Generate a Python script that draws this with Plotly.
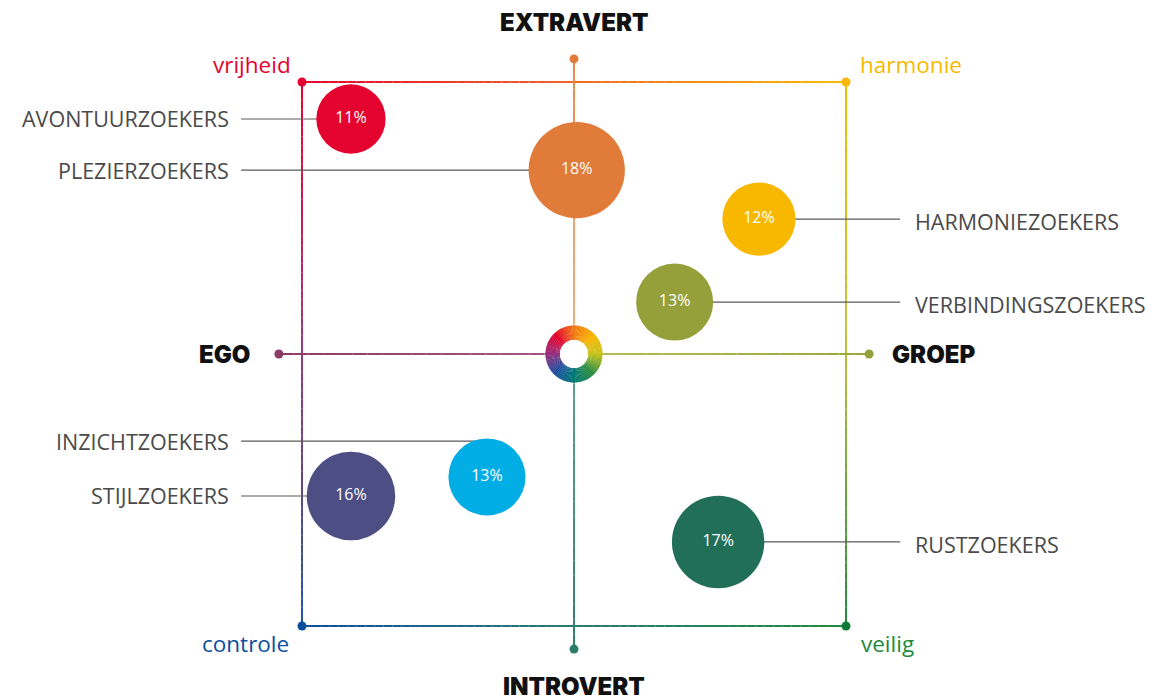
import math
import plotly.graph_objects as go

# ---------------- data ----------------
segments = ["AVONTUURZOEKERS", "PLEZIERZOEKERS", "HARMONIEZOEKERS", "VERBINDINGSZOEKERS",
            "INZICHTZOEKERS", "STIJLZOEKERS", "RUSTZOEKERS"]
ego_groep = [-0.82, 0.01, 0.68, 0.37, -0.32, -0.82, 0.53]       # x: EGO (-1) .. GROEP (+1)
intro_extra = [0.864, 0.676, 0.496, 0.191, -0.452, -0.522, -0.691]  # y: INTROVERT (-1) .. EXTRAVERT (+1)
share_pct = [11, 18, 12, 13, 13, 16, 17]
label_side = ["left", "left", "right", "right", "left", "left", "right"]
label_y = [0.864, 0.676, 0.496, 0.191, -0.32, -0.522, -0.691]
bubble_colors = ["#E4032E", "#E07B39", "#F9B800", "#95A03A", "#00ADE5", "#4D4F84", "#226F58"]

axis_titles = ["EXTRAVERT", "INTROVERT", "EGO", "GROEP"]
corner_titles = ["vrijheid", "harmonie", "controle", "veilig"]
corner_colors = ["#E4032E", "#F9B800", "#0B4F9C", "#1E8A3C"]

# ---------------- geometry helpers ----------------
W, H = 1158, 700
PX = 272.0          # pixels per data unit
CX, CY = 574, 354   # pixel of data origin
xr = [-CX / PX, (W - CX) / PX]
yr = [-(H - CY) / PX, CY / PX]


def hex2rgb(h):
    h = h.lstrip("#")
    return [int(h[i:i + 2], 16) for i in (0, 2, 4)]


def interp(stops, t):
    for i in range(len(stops) - 1):
        t0, c0 = stops[i]
        t1, c1 = stops[i + 1]
        if t0 <= t <= t1:
            f = (t - t0) / (t1 - t0) if t1 > t0 else 0
            a, b = hex2rgb(c0), hex2rgb(c1)
            return "rgb(%d,%d,%d)" % tuple(round(a[k] + (b[k] - a[k]) * f) for k in range(3))
    return stops[-1][1]


fig = go.Figure()
shapes = []


def grad_line(x0, y0, x1, y1, stops, n=60, width=2):
    for i in range(n):
        ta, tb = i / n, (i + 1) / n
        col = interp(stops, (ta + tb) / 2)
        shapes.append(dict(type="line", xref="x", yref="y",
                           x0=x0 + (x1 - x0) * ta, y0=y0 + (y1 - y0) * ta,
                           x1=x0 + (x1 - x0) * tb, y1=y0 + (y1 - y0) * tb,
                           line=dict(color=col, width=width), layer="below"))


# frame edges (gradient)
grad_line(-1, 1, 1, 1, [(0, "#E4032E"), (0.5, "#EE6A28"), (1, "#F9B800")])
grad_line(1, 1, 1, -1, [(0, "#F9B800"), (0.5, "#B8C23A"), (1, "#1E8A3C")])
grad_line(-1, -1, 1, -1, [(0, "#0B4F9C"), (0.5, "#2A7A70"), (1, "#1E8A3C")])
grad_line(-1, 1, -1, -1, [(0, "#E4032E"), (0.5, "#9A3A78"), (1, "#1E55A5")])

# axis lines
AX = 1.085
grad_line(0, AX, 0, 0, [(0, "#E8894C"), (1, "#F4AE84")], n=20)
grad_line(0, 0, 0, -AX, [(0, "#62A28E"), (1, "#2E8068")], n=20)
grad_line(-AX, 0, 0, 0, [(0, "#8B3A66"), (1, "#A55888")], n=20)
grad_line(0, 0, AX, 0, [(0, "#B2C055"), (1, "#98A63C")], n=20)

# connector lines
for x, y, ly, side in zip(ego_groep, intro_extra, label_y, label_side):
    xe = -1.224 if side == "left" else 1.199
    fig.add_trace(go.Scatter(x=[xe, x], y=[ly, ly], mode="lines",
                             line=dict(color="#5a5a5a", width=1.2), hoverinfo="skip"))

# endpoint dots
dots_x = [-1, 1, -1, 1, 0, 0, -AX, AX]
dots_y = [1, 1, -1, -1, AX, -AX, 0, 0]
dots_c = corner_colors[:2] + ["#0B4F9C", "#0E7A38"] + ["#E07B39", "#2A7D68", "#8B3A62", "#95A03A"]
fig.add_trace(go.Scatter(x=dots_x, y=dots_y, mode="markers",
                         marker=dict(size=9, color=dots_c, line=dict(width=0)), hoverinfo="skip"))

# bubbles
sizes = [3.85 * p + 27 for p in share_pct]
fig.add_trace(go.Scatter(x=ego_groep, y=intro_extra, mode="markers+text",
                         marker=dict(size=sizes, sizemode="diameter", color=bubble_colors,
                                     line=dict(width=0), opacity=1),
                         text=[f"{p}%" for p in share_pct], textposition="middle center",
                         textfont=dict(family="Open Sans", size=16, color="white", weight=400),
                         hoverinfo="skip"))

# center colour ring
ring_stops = [(0, "#C8C41E"), (45, "#F8B400"), (90, "#F07A14"), (135, "#E4032E"),
              (180, "#96307E"), (225, "#1E4FA0"), (270, "#007A76"), (315, "#2E8E3E"), (360, "#C8C41E")]
r_out, r_in = 28.5 / PX, 14 / PX
NSEG = 120
for i in range(NSEG):
    a0 = 360 * i / NSEG
    a1 = 360 * (i + 1) / NSEG + 0.8
    col = interp(ring_stops, 360 * (i + 0.5) / NSEG)
    pts = []
    for k in range(5):
        a = math.radians(a0 + (a1 - a0) * k / 4)
        pts.append((r_out * math.cos(a), r_out * math.sin(a)))
    for k in range(4, -1, -1):
        a = math.radians(a0 + (a1 - a0) * k / 4)
        pts.append((r_in * math.cos(a), r_in * math.sin(a)))
    path = "M " + " L ".join(f"{px:.5f},{py:.5f}" for px, py in pts) + " Z"
    shapes.append(dict(type="path", xref="x", yref="y", path=path,
                       fillcolor=col, line=dict(width=0), layer="above"))
shapes.append(dict(type="circle", xref="x", yref="y", x0=-r_in, y0=-r_in, x1=r_in, y1=r_in,
                   fillcolor="white", line=dict(width=0), layer="above"))

annotations = []
bold = dict(family="Inter", size=24, color="#111111", weight=900)
annotations.append(dict(x=0, y=1.217, text=axis_titles[0], xanchor="center", yanchor="middle", font=bold))
annotations.append(dict(x=0, y=-1.221, text=axis_titles[1], xanchor="center", yanchor="middle", font=bold))
annotations.append(dict(x=-1.184, y=0, text=axis_titles[2], xanchor="right", yanchor="middle", font=bold))
annotations.append(dict(x=1.163, y=0, text=axis_titles[3], xanchor="left", yanchor="middle", font=bold))

corner_pos = [(-1.184, 1.066), (1.239, 1.066), (-1.206, -1.0625), (1.151, -1.0625)]
for t, (cx, cy), c in zip(corner_titles, corner_pos, corner_colors):
    annotations.append(dict(x=cx, y=cy, text=t, xanchor="center", yanchor="middle",
                            font=dict(family="Open Sans", size=22.5, color=c, weight=400)))

for name, ly, side in zip(segments, label_y, label_side):
    if side == "left":
        annotations.append(dict(x=-1.262, y=ly, text=name, xanchor="right", yanchor="middle",
                                font=dict(family="Open Sans", size=21.5, color="#4a4a4a", weight=400)))
    else:
        annotations.append(dict(x=1.245, y=ly - 0.01, text=name, xanchor="left", yanchor="middle",
                                font=dict(family="Open Sans", size=21.5, color="#4a4a4a", weight=400)))
for a in annotations:
    a.update(showarrow=False, xref="x", yref="y")

fig.update_layout(
    width=W, height=H, margin=dict(l=0, r=0, t=0, b=0),
    paper_bgcolor="white", plot_bgcolor="white", showlegend=False,
    xaxis=dict(range=xr, visible=False, fixedrange=True),
    yaxis=dict(range=yr, visible=False, fixedrange=True),
    shapes=shapes, annotations=annotations,
)

fig.write_html("out.html", config={"displayModeBar": False},
               post_script="document.body.style.margin='0';document.body.style.overflow='hidden';")
